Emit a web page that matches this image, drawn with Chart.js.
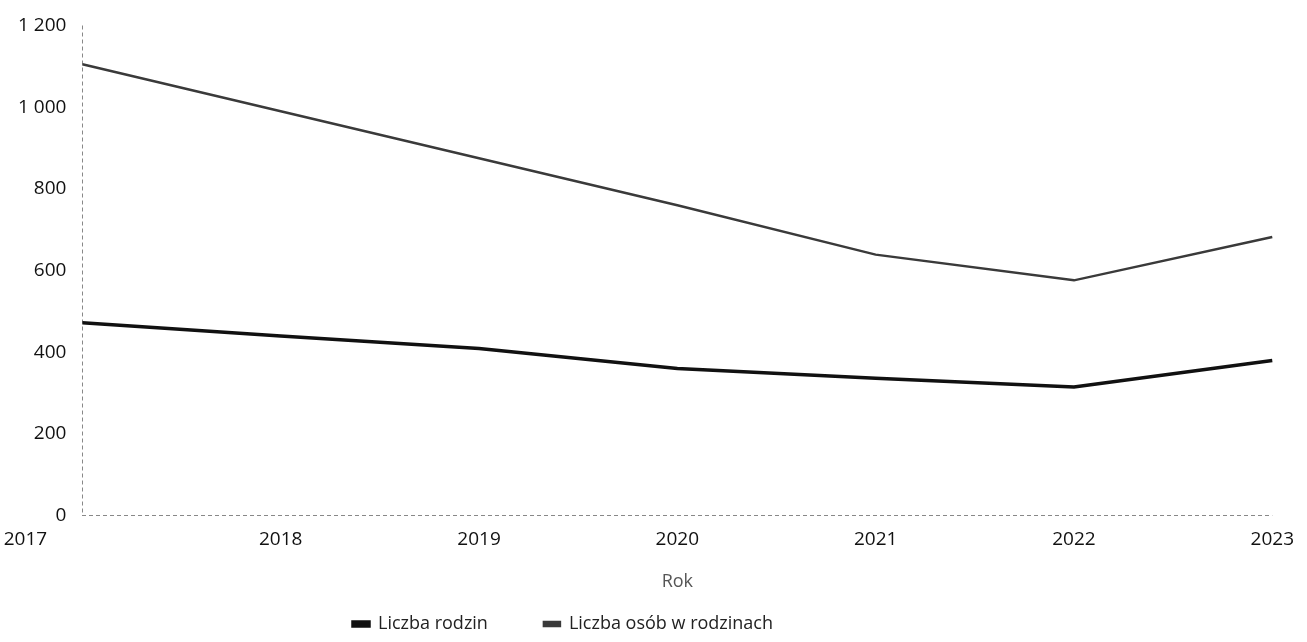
<!DOCTYPE html>
<html lang="pl">
<head>
<meta charset="utf-8">
<title>Liczba rodzin i osób w rodzinach</title>
<script src="https://cdn.jsdelivr.net/npm/chart.js@4/dist/chart.umd.min.js"></script>
<style>
  html, body { margin: 0; padding: 0; background: #fff; }
  #wrap { width: 1307px; height: 642px; }
</style>
</head>
<body>
<div id="wrap"><canvas id="chart"></canvas></div>
<script>
const years = ['2017', '2018', '2019', '2020', '2021', '2022', '2023'];
const rodziny = [472, 440, 409, 360, 336, 315, 380];
const osoby = [1105, 990, 875, 760, 639, 576, 682];
const yMax = 1200;
const yStep = 200;

// "1 200" – spacja jako separator tysięcy
const fmt = v => String(v).replace(/\B(?=(\d{3})+(?!\d))/g, ' ');

const LEGEND_GAP = 56;

// legenda przesunięta w lewo i w dół jak w oryginale
const legendShift = {
  id: 'legendShift',
  afterLayout(chart) {
    chart.legend.left = 353 - LEGEND_GAP;
    chart.legend.top = 626 - LEGEND_GAP - 11;
  }
};

// pierwsza etykieta osi X stoi bardziej na lewo
const firstLabelShift = {
  id: 'firstLabelShift',
  beforeDraw(chart) {
    const items = chart.scales.x.getLabelItems();
    if (items.length && !items[0]._moved) {
      items[0].options.translation[0] -= 57;
      items[0]._moved = true;
    }
  }
};

const ctx = document.getElementById('chart').getContext('2d');
const chart = new Chart(ctx, {
  type: 'line',
  data: {
    labels: years,
    datasets: [{
      label: 'Liczba rodzin',
      data: rodziny,
      borderColor: '#111',
      backgroundColor: '#111',
      borderWidth: 3.5,
      pointRadius: 0,
      tension: 0
    }, {
      label: 'Liczba osób w rodzinach',
      data: osoby,
      borderColor: '#3a3a3a',
      backgroundColor: '#3a3a3a',
      borderWidth: 2.5,
      pointRadius: 0,
      tension: 0
    }]
  },
  options: {
    responsive: true,
    maintainAspectRatio: false,
    animation: false,
    layout: { padding: { left: 2, right: 25, top: 0, bottom: 11 } },
    plugins: {
      tooltip: { enabled: false },
      legend: {
        position: 'bottom',
        align: 'start',
        maxHeight: 38,
        labels: {
          boxWidth: 16,
          boxHeight: 4,
          padding: LEGEND_GAP,
          color: '#222',
          font: { family: 'Open Sans', size: 18 }
        }
      }
    },
    scales: {
      x: {
        grid: {
          drawTicks: false,
          color: c => c.index === 0 ? '#888' : 'transparent'
        },
        border: { display: false, dash: [4, 3] },
        ticks: {
          padding: 13,
          maxRotation: 0,
          color: '#111',
          font: { family: 'Open Sans', size: 19 }
        },
        title: {
          display: true,
          text: 'Rok',
          color: '#555',
          padding: { top: 7, bottom: 0 },
          font: { family: 'Open Sans', size: 18 }
        }
      },
      y: {
        min: 0,
        max: yMax,
        grid: {
          drawTicks: false,
          color: c => c.tick && c.tick.value === 0 ? '#888' : 'transparent'
        },
        border: { display: false, dash: [4, 3] },
        ticks: {
          stepSize: yStep,
          padding: 16,
          color: '#111',
          font: { family: 'Open Sans', size: 19, lineHeight: 1 },
          callback: v => fmt(v)
        }
      }
    }
  },
  plugins: [legendShift, firstLabelShift]
});
</script>
</body>
</html>
